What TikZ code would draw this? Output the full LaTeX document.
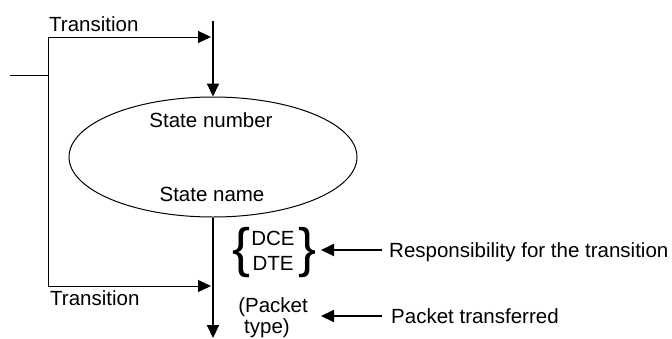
\documentclass[tikz,border=0pt]{standalone}
\usepackage{fontspec}
\setmainfont{Liberation Sans}
\usetikzlibrary{arrows.meta,shapes.geometric}
\begin{document}
\begin{tikzpicture}[x=1pt,y=-1pt,
  lbl/.style={inner sep=0pt,font=\fontsize{20.5}{24}\selectfont},
  brc/.style={inner sep=0pt,font=\fontsize{54}{54}\selectfont},
  thinline/.style={line width=1pt},
  heavy/.style={line width=2pt},
  tip/.style={-{Triangle[length=13pt,width=12pt]}},
]
\useasboundingbox (0,0) rectangle (672,338);
% state ellipse
\node[draw, ellipse, line width=1pt, minimum width=288pt, minimum height=120pt, inner sep=0pt] (st) at (213,157) {};
\node[lbl, anchor=base] (num) at (211,127) {State number};
\node[lbl, anchor=base] (name) at (212,201) {State name};
% transitions
\coordinate (stub) at (10,75);
\coordinate (j) at (48,75);
\coordinate (tl) at (48,37);
\coordinate (bl) at (48,286);
\coordinate (top) at (213,21);
\coordinate (end) at (213,338);
\coordinate (ta) at (213,37);
\coordinate (ba) at (213,286);
\draw[thinline] (stub) -- (j);
\draw[thinline] (tl) -- (bl);
\draw[thinline,tip,shorten >=2pt] (tl) -- (ta);
\draw[thinline,tip,shorten >=2pt] (bl) -- (ba);
\node[lbl, anchor=base west] (t1) at (49,31) {Transition};
\node[lbl, anchor=base west] (t2) at (50,305) {Transition};
\draw[heavy,tip] (top) -- (st.north);
\draw[heavy,tip] (st.south) -- (end);
% responsibility
\node[brc] (lb) at (241.5,252.5) {\{};
\node[brc] (rb) at (307.5,252.5) {\}};
\node[lbl, anchor=base] (dce) at (273,245) {DCE};
\node[lbl, anchor=base] (dte) at (273,270) {DTE};
\node[lbl, anchor=base] (pk1) at (273,312) {(Packet};
\node[lbl, anchor=base] (pk2) at (267,333) {type)};
\node[lbl, anchor=base west] (resp) at (389,257) {Responsibility for the transition};
\node[lbl, anchor=base west] (pt) at (391,323) {Packet transferred};
\coordinate (r1s) at (382,250);
\coordinate (r1e) at (321,250);
\coordinate (r2s) at (382,316);
\coordinate (r2e) at (321,316);
\draw[heavy,tip] (r1s) -- (r1e);
\draw[heavy,tip] (r2s) -- (r2e);
\end{tikzpicture}
\end{document}
